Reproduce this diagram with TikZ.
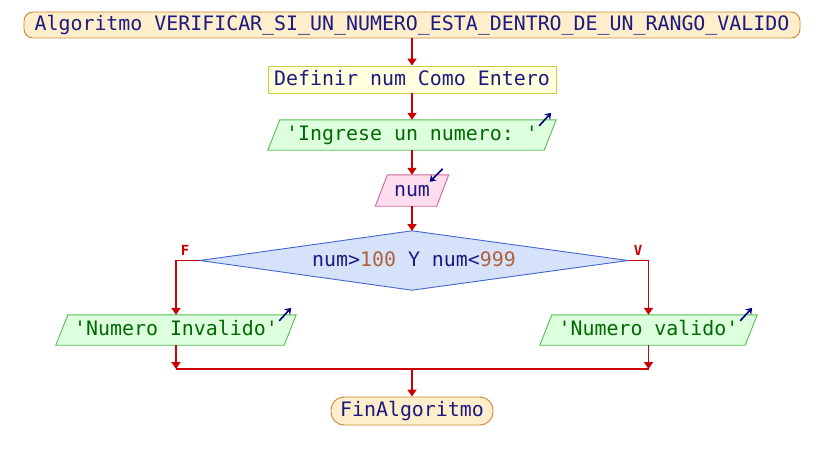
\documentclass[tikz,border=0pt]{standalone}
\usepackage{fontspec}
\setmonofont{DejaVu Sans Mono}
\usetikzlibrary{arrows.meta,backgrounds,calc}
\definecolor{flowred}{HTML}{CC0000}
\definecolor{kw}{HTML}{1A1A80}
\definecolor{strg}{HTML}{006A00}
\definecolor{numc}{HTML}{B0603A}
\definecolor{termfill}{HTML}{FFEECC}
\definecolor{termdraw}{HTML}{CC8833}
\definecolor{deffill}{HTML}{FFFFDD}
\definecolor{defdraw}{HTML}{CCCC44}
\definecolor{iofill}{HTML}{DDFFDD}
\definecolor{iodraw}{HTML}{55BB55}
\definecolor{infill}{HTML}{FFDDEE}
\definecolor{indraw}{HTML}{CC6699}
\definecolor{dfill}{HTML}{D6E2FA}
\definecolor{ddraw}{HTML}{4466CC}
\definecolor{icon}{HTML}{000080}
\newcommand\parashape[3]{%
  \begin{pgfonlayer}{background}
  \draw[fill=#2,draw=#3,line width=0.9pt]
    ([xshift=-6pt]#1.south west) -- ([xshift=6pt]#1.north west) --
    ([xshift=6pt]#1.north east) -- ([xshift=-6pt]#1.south east) -- cycle;
  \end{pgfonlayer}}
\begin{document}
\begin{tikzpicture}[x=1pt,y=-1pt,
  every node/.style={font=\ttfamily\fontsize{19.9}{22}\selectfont,inner sep=0pt,text=kw,
    text height=14.5pt,text depth=3pt},
  term/.style={draw=termdraw,fill=termfill,line width=0.9pt},
  procbox/.style={draw=defdraw,fill=deffill,line width=0.9pt,minimum width=288pt,minimum height=27pt},
  iobox/.style={minimum height=30pt,text=strg},
  flow/.style={draw=flowred,line width=1.8pt,-{Triangle[width=9pt,length=7pt]}},
  plain/.style={draw=flowred,line width=1.8pt},
  ioicon/.style={draw=icon,line width=1.6pt,-{Stealth[width=8pt,length=6pt]}},
  lbl/.style={text=flowred,font=\ttfamily\bfseries\fontsize{14}{16}\selectfont,text height=10pt,text depth=0pt}]
\useasboundingbox (0,0) rectangle (824,460);
% top terminal
\node[term,rounded corners=9pt,minimum width=776pt,minimum height=26pt] (top) at (412,25)
  {Algoritmo VERIFICAR\_SI\_UN\_NUMERO\_ESTA\_DENTRO\_DE\_UN\_RANGO\_VALIDO};
\node[procbox] (def) at (412,79.5) {Definir num Como Entero};
\node[iobox,minimum width=276pt] (ing) at (412,135) {'Ingrese un numero: '};
\parashape{ing}{iofill}{iodraw}
\node[minimum width=61pt,minimum height=31pt] (num) at (412,190.5) {num};
\parashape{num}{infill}{indraw}
% decision
\node[minimum width=428pt,minimum height=59pt] (cond) at (414,260.5)
  {num>\textcolor{numc}{100} Y num<\textcolor{numc}{999}};
\begin{pgfonlayer}{background}
\draw[fill=dfill,draw=ddraw,line width=0.9pt] (cond.west) -- (cond.north -| 412,0) -- (cond.east) -- (cond.south -| 412,0) -- cycle;
\end{pgfonlayer}
\node[iobox,minimum width=228pt] (inv) at (176,330) {'Numero Invalido'};
\parashape{inv}{iofill}{iodraw}
\node[iobox,minimum width=205pt] (val) at (648.5,330) {'Numero valido'};
\parashape{val}{iofill}{iodraw}
\node[term,rounded corners=13pt,minimum width=162pt,minimum height=28pt] (fin) at (412,411) {FinAlgoritmo};
% labels
\node[lbl] (lf) at (185,250) {F};
\node[lbl] (lv) at (638,250) {V};
% coordinates
\coordinate (ctop) at (412,231);
\coordinate (cbot) at (412,290);
\coordinate (join) at (412,369);
\coordinate (jl) at (176,369);
\coordinate (jr) at (648.5,369);
% connectors
\draw[flow] (top.south -| 412,0) -- (def.north);
\draw[flow] (def.south) -- (ing.north);
\draw[flow] (ing.south) -- (num.north);
\draw[flow] (num.south) -- (ctop);
\draw[flow] (cond.west) -| (inv.north);
\draw[flow] (cond.east) -| (val.north);
\draw[flow] (inv.south) -- (jl);
\draw[flow] (val.south) -- (jr);
\draw[plain] (jl) -- (jr);
\draw[flow] (join) -- (fin.north);
% io icons
\draw[ioicon] ([xshift=-11pt,yshift=-6pt]ing.north east) -- ([xshift=1pt,yshift=7pt]ing.north east);
\draw[ioicon] ([xshift=-11pt,yshift=-6pt]inv.north east) -- ([xshift=1pt,yshift=7pt]inv.north east);
\draw[ioicon] ([xshift=-11pt,yshift=-6pt]val.north east) -- ([xshift=1pt,yshift=7pt]val.north east);
\draw[ioicon] ([xshift=0pt,yshift=6pt]num.north east) -- ([xshift=-13pt,yshift=-7pt]num.north east);
\end{tikzpicture}
\end{document}
